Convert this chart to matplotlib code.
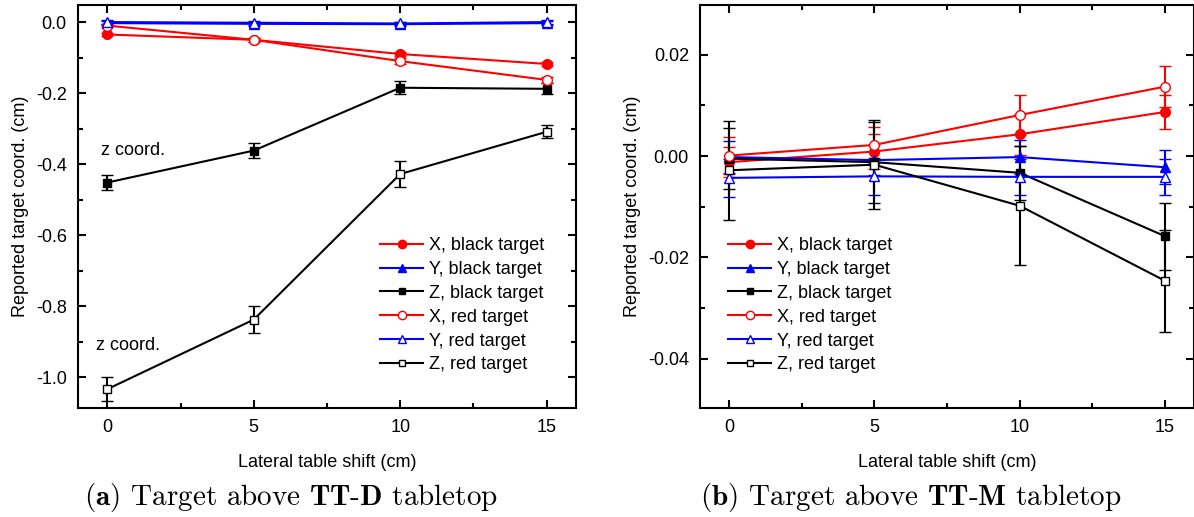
import numpy as np
import matplotlib
matplotlib.use("Agg")
from matplotlib import pyplot as plt
from matplotlib.lines import Line2D

plt.rcParams['font.family'] = ['Liberation Sans', 'DejaVu Sans']
plt.rcParams['mathtext.fontset'] = 'cm'

shift = [0, 5, 10, 15]

# (a) TT-D tabletop
a_x_black = [-0.035, -0.050, -0.090, -0.118]
a_x_red = [-0.010, -0.050, -0.110, -0.163]
a_y_black = [-0.003, -0.005, -0.006, -0.003]
a_y_red = [0.000, -0.002, -0.004, 0.000]
a_z_black = [-0.452, -0.362, -0.185, -0.188]
a_z_red = [-1.034, -0.838, -0.428, -0.309]
a_x_black_err = [0.005, 0.005, 0.005, 0.005]
a_x_red_err = [0.005, 0.005, 0.008, 0.008]
a_y_black_err = [0.005, 0.005, 0.005, 0.005]
a_y_red_err = [0.005, 0.005, 0.005, 0.005]
a_z_black_err = [0.022, 0.020, 0.018, 0.015]
a_z_red_err = [0.033, 0.037, 0.037, 0.018]

# (b) TT-M tabletop
b_x_black = [-0.0012, 0.0009, 0.0043, 0.0087]
b_x_red = [0.0001, 0.0022, 0.0081, 0.0137]
b_y_black = [-0.0002, -0.0008, -0.0002, -0.0022]
b_y_red = [-0.0043, -0.0040, -0.0041, -0.0041]
b_z_black = [-0.0005, -0.0012, -0.0033, -0.0158]
b_z_red = [-0.0028, -0.0017, -0.0098, -0.0246]
b_x_black_err = [0.0030, 0.0035, 0.0040, 0.0033]
b_x_red_err = [0.0037, 0.0035, 0.0040, 0.0040]
b_y_black_err = [0.0032, 0.0030, 0.0034, 0.0034]
b_y_red_err = [0.0038, 0.0036, 0.0035, 0.0036]
b_z_black_err = [0.0060, 0.0080, 0.0053, 0.0066]
b_z_red_err = [0.0098, 0.0088, 0.0117, 0.0101]

labels = ['X, black target', 'Y, black target', 'Z, black target',
          'X, red target', 'Y, red target', 'Z, red target']
colors = ['red', 'blue', 'black', 'red', 'blue', 'black']
markers = ['o', '^', 's', 'o', '^', 's']
filled = [True, True, True, False, False, False]

FS = 13


'''
func: draw one panel with six series
'''
def draw_panel(ax, series, errs):
    for i in range(6):
        c = colors[i]
        ax.errorbar(shift, series[i], yerr=errs[i], color=c, lw=1.5,
                    marker=markers[i], ms=7 if markers[i] != 's' else 6,
                    mfc=c if filled[i] else 'white', mec=c, mew=1.0,
                    capsize=4, capthick=1.5, elinewidth=1.5)
    ax.set_xlim(-1, 16)
    ax.set_xticks([0, 5, 10, 15])
    ax.set_xticks([2.5, 7.5, 12.5], minor=True)
    ax.tick_params(which='both', direction='in', top=True, right=True,
                   labelsize=FS, width=1.5)
    ax.tick_params(which='major', length=6, pad=8)
    ax.tick_params(which='minor', length=3.5)
    for s in ax.spines.values():
        s.set_linewidth(1.5)
    ax.set_xlabel('Lateral table shift (cm)', fontsize=FS, labelpad=13)
    ax.set_ylabel('Reported target coord. (cm)', fontsize=FS, labelpad=5)


'''
func: legend handles, line with marker but without error bars
'''
def legend_handles():
    hs = []
    for i in range(6):
        c = colors[i]
        hs.append(Line2D([], [], color=c, lw=1.5, marker=markers[i],
                         ms=6 if markers[i] != 's' else 5,
                         mfc=c if filled[i] else 'white', mec=c, mew=1.0,
                         label=labels[i]))
    return hs


fig = plt.figure(figsize=(11.94, 5.17), dpi=100)
ax1 = fig.add_axes([0.0653, 0.2108, 0.4171, 0.7795])
ax2 = fig.add_axes([0.5863, 0.2108, 0.4137, 0.7795])

draw_panel(ax1, [a_x_black, a_y_black, a_z_black, a_x_red, a_y_red, a_z_red],
           [a_x_black_err, a_y_black_err, a_z_black_err, a_x_red_err, a_y_red_err, a_z_red_err])
ax1.set_ylim(-1.087, 0.048)
ax1.set_yticks([0.0, -0.2, -0.4, -0.6, -0.8, -1.0])
ax1.set_yticks([-0.1, -0.3, -0.5, -0.7, -0.9], minor=True)
ax1.set_yticklabels(['0.0', '-0.2', '-0.4', '-0.6', '-0.8', '-1.0'])
ax1.text(-0.2, -0.375, 'z coord.', fontsize=FS)
ax1.text(-0.4, -0.925, 'z coord.', fontsize=FS)
ax1.legend(handles=legend_handles(), loc='lower right', bbox_to_anchor=(0.95, 0.068),
           frameon=False, fontsize=FS, handlelength=2.4, handletextpad=0.3,
           labelspacing=0.38, borderaxespad=0)

draw_panel(ax2, [b_x_black, b_y_black, b_z_black, b_x_red, b_y_red, b_z_red],
           [b_x_black_err, b_y_black_err, b_z_black_err, b_x_red_err, b_y_red_err, b_z_red_err])
ax2.set_ylim(-0.0497, 0.0298)
ax2.set_yticks([0.02, 0.0, -0.02, -0.04])
ax2.set_yticks([0.01, -0.01, -0.03], minor=True)
ax2.set_yticklabels(['0.02', '0.00', '-0.02', '-0.04'])
ax2.legend(handles=legend_handles(), loc='lower left', bbox_to_anchor=(0.042, 0.068),
           frameon=False, fontsize=FS, handlelength=2.4, handletextpad=0.3,
           labelspacing=0.38, borderaxespad=0)

fig.text(0.244, 0.038, r'$\mathbf{(a)}$ Target above $\mathbf{TT}$-$\mathbf{D}$ tabletop',
         fontsize=21, family='cmr10', ha='center', va='center')
fig.text(0.763, 0.038, r'$\mathbf{(b)}$ Target above $\mathbf{TT}$-$\mathbf{M}$ tabletop',
         fontsize=21, family='cmr10', ha='center', va='center')

plt.savefig('out.png', dpi=100)
